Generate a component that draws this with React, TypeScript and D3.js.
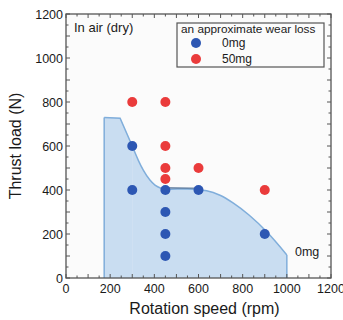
import React from "react";
import * as d3 from "d3";

const blueX = [300, 300, 450, 450, 450, 450, 600, 900];
const blueY = [600, 400, 400, 300, 200, 100, 400, 200];
const redX = [300, 450, 450, 450, 450, 600, 900];
const redY = [800, 800, 600, 500, 450, 500, 400];
const regionX = [173, 245, 300, 327, 350, 380, 403, 430, 456, 550, 637, 700, 758, 830, 909, 1000];
const regionY = [730, 726, 600, 536, 490, 445, 422, 408, 403, 405, 397, 375, 340, 285, 210, 105];
const xTicks = [0, 200, 400, 600, 800, 1000, 1200];
const yTicks = [0, 200, 400, 600, 800, 1000, 1200];

export default function App() {
  const W = 343, H = 320;
  const L = 66, R = 331, T = 14, B = 278;
  const x = d3.scaleLinear().domain([0, 1200]).range([L, R]);
  const y = d3.scaleLinear().domain([0, 1200]).range([B, T]);
  const pts = regionX.map((v, i) => [v, regionY[i]] as [number, number]);
  const head = pts.slice(0, 3);
  const tail = pts.slice(2);
  const mkArea = (c: d3.CurveFactory) =>
    d3
      .area<[number, number]>()
      .x((d) => x(d[0]))
      .y0(y(0))
      .y1((d) => y(d[1]))
      .curve(c);
  const mkLine = (c: d3.CurveFactory) =>
    d3
      .line<[number, number]>()
      .x((d) => x(d[0]))
      .y((d) => y(d[1]))
      .curve(c);
  const minor = d3.range(0, 1201, 50);
  const font = "Liberation Sans, Arial, sans-serif";
  const frame = "#555";
  const txt = "#1a1a1a";
  const edge = "#80aedb";
  const last = pts[pts.length - 1];
  return (
    <svg width={W} height={H} style={{ position: "absolute", left: 0, top: 0 }} fontFamily={font}>
      <rect x={0} y={0} width={W} height={H} fill="#ffffff" />
      <rect x={L} y={T} width={R - L} height={B - T} fill="#fbfbfb" />
      <path d={mkArea(d3.curveLinear)(head) || ""} fill="#c9ddf1" stroke="#c9ddf1" strokeWidth={0.5} />
      <path d={mkArea(d3.curveMonotoneX)(tail) || ""} fill="#c9ddf1" stroke="none" />
      <path d={`M${x(pts[0][0])},${y(0)}L${x(pts[0][0])},${y(pts[0][1])}`} stroke={edge} strokeWidth={1.5} fill="none" />
      <path d={mkLine(d3.curveLinear)(head) || ""} stroke={edge} strokeWidth={1.5} fill="none" />
      <path d={mkLine(d3.curveMonotoneX)(tail) || ""} stroke={edge} strokeWidth={1.5} fill="none" />
      <path d={`M${x(last[0])},${y(last[1])}L${x(last[0])},${y(0)}`} stroke={edge} strokeWidth={1.5} fill="none" />
      <path d={`M${x(456)},${y(410)}L${x(620)},${y(408)}`} stroke="#4a6a90" strokeWidth={1.2} fill="none" />
      {minor.map((v) => {
        const len = v % 100 === 0 ? 4 : 2.5;
        return (
          <g key={"t" + v} stroke={frame} strokeWidth={1}>
            <line x1={x(v)} x2={x(v)} y1={B} y2={B - len} />
            <line x1={x(v)} x2={x(v)} y1={T} y2={T + len} />
            <line x1={L} x2={L + len} y1={y(v)} y2={y(v)} />
            <line x1={R} x2={R - len} y1={y(v)} y2={y(v)} />
          </g>
        );
      })}
      <rect x={L} y={T} width={R - L} height={B - T} fill="none" stroke={frame} strokeWidth={1.3} />
      {blueX.map((v, i) => (
        <circle key={"b" + i} cx={x(v)} cy={y(blueY[i])} r={5} fill="#2d57b3" />
      ))}
      {redX.map((v, i) => (
        <circle key={"r" + i} cx={x(v)} cy={y(redY[i])} r={5} fill="#ea3b3b" />
      ))}
      {xTicks.map((v) => (
        <text key={"xl" + v} x={x(v)} y={B + 15} textAnchor="middle" fontSize={12.5} fill={txt}>
          {v}
        </text>
      ))}
      {yTicks.map((v) => (
        <text key={"yl" + v} x={L - 3} y={y(v) + 4.5} textAnchor="end" fontSize={12.5} fill={txt}>
          {v}
        </text>
      ))}
      <text x={(L + R) / 2 + 6} y={314} textAnchor="middle" fontSize={16} fill={txt}>
        Rotation speed (rpm)
      </text>
      <text transform={`translate(21,${(T + B) / 2}) rotate(-90)`} textAnchor="middle" fontSize={16} fill={txt}>
        Thrust load (N)
      </text>
      <text x={74} y={32} fontSize={13} fill={txt}>In air (dry)</text>
      <text x={295} y={256} fontSize={12.5} fill={txt}>0mg</text>
      <rect x={177} y={23} width={147} height={44} fill="#fbfbfb" stroke={frame} strokeWidth={1.2} />
      <text x={181} y={32.5} fontSize={11.8} fill={txt}>an approximate wear loss</text>
      <circle cx={196} cy={43} r={5} fill="#2d57b3" />
      <text x={222} y={47} fontSize={12} fill={txt}>0mg</text>
      <circle cx={196} cy={59} r={5} fill="#ea3b3b" />
      <text x={222} y={63} fontSize={12} fill={txt}>50mg</text>
    </svg>
  );
}
